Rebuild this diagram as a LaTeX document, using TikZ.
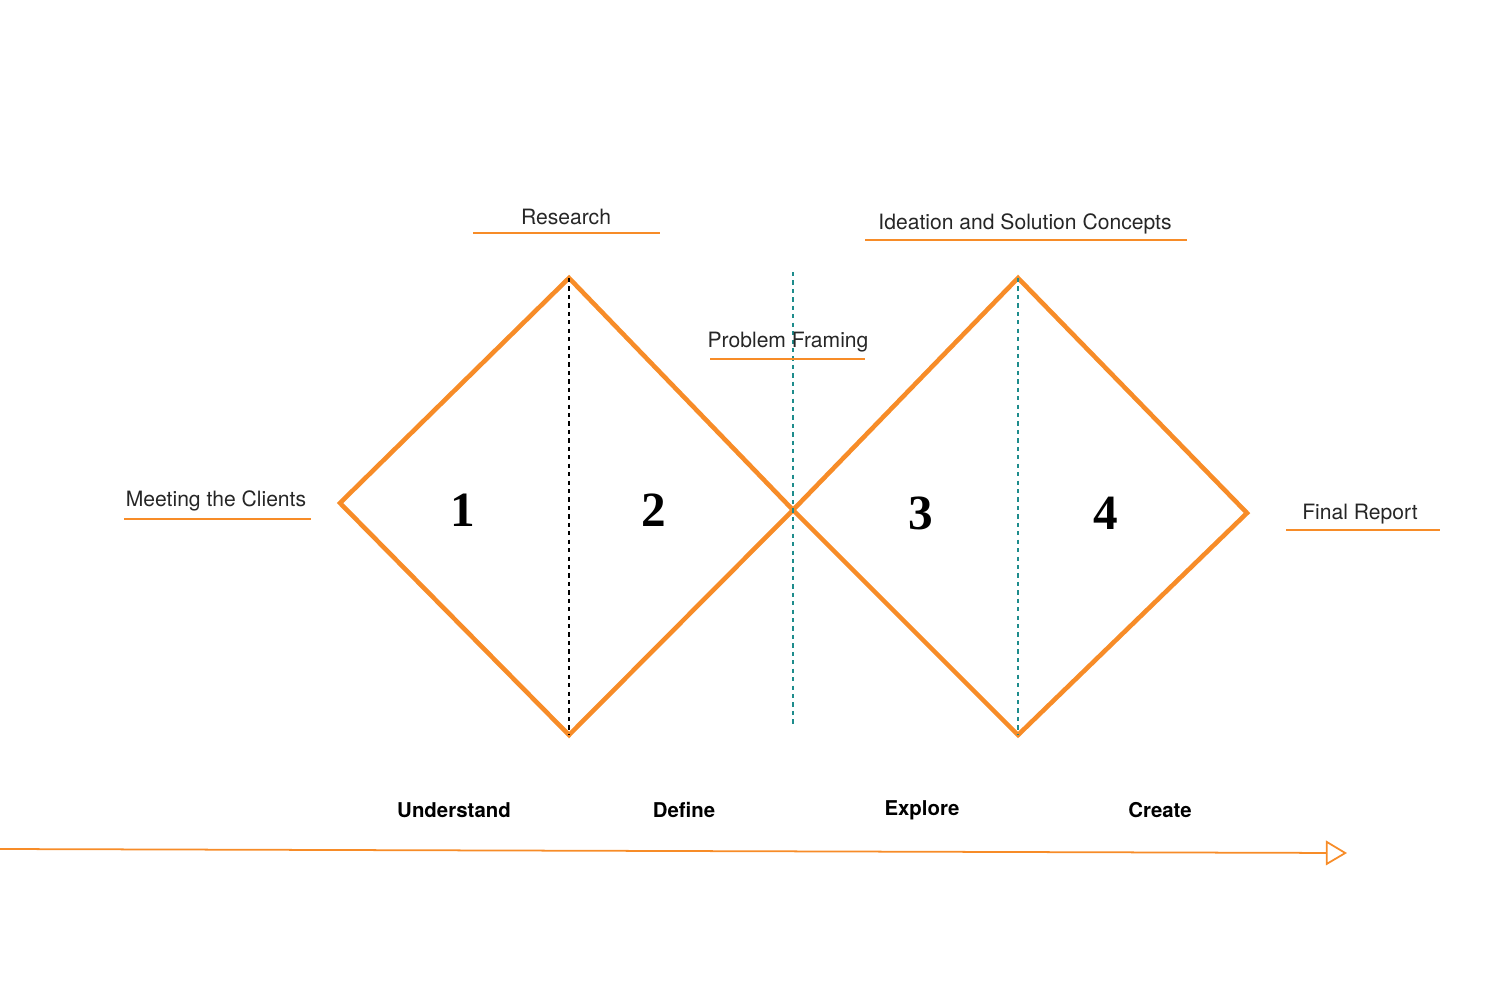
\documentclass[tikz,border=0pt]{standalone}
\usepackage{fontspec}
\setmainfont{Liberation Serif}
\setsansfont{TeX Gyre Heros}
\usetikzlibrary{arrows.meta}
\definecolor{phaseorange}{RGB}{247,140,40}
\definecolor{lineteal}{RGB}{30,140,140}
\tikzset{
  phase/.style={draw=phaseorange, line width=1.3pt, line join=miter},
  step label/.style={font=\sffamily\fontsize{6}{7}\selectfont, text=black!85, inner sep=1pt},
  under/.style={draw=phaseorange, line width=0.4pt},
  stage/.style={font=\sffamily\bfseries\fontsize{5.8}{7}\selectfont},
  num/.style={font=\rmfamily\bfseries\fontsize{14}{16}\selectfont},
  divider/.style={line width=0.7pt, dash pattern=on 1.2pt off 1.2pt},
}
\begin{document}
\begin{tikzpicture}[x=0.01cm,y=-0.01cm]
\useasboundingbox (0,0) rectangle (1500,1003);

% the two diamonds
\coordinate (aL) at (340,503); \coordinate (aT) at (569,278);
\coordinate (aB) at (569,735); \coordinate (mid) at (793,510);
\coordinate (bT) at (1018,278); \coordinate (bB) at (1018,735);
\coordinate (bR) at (1247,513);
\draw[phase] (aL) -- (aT) -- (mid) -- (aB) -- cycle;
\draw[phase] (mid) -- (bT) -- (bR) -- (bB) -- cycle;

% dividers
\draw[divider, black] (aT) -- (aB);
\draw[divider, lineteal] (793,272) -- (793,725);
\draw[divider, lineteal] (bT) -- (bB);

% numbers
\node[num] (n1) at (463,510) {1};
\node[num] (n2) at (654,510) {2};
\node[num] (n3) at (921,513) {3};
\node[num] (n4) at (1106,513) {4};

% labels with underlines
\node[step label] (research) at (566,217) {Research};
\draw[under] (473,233) -- (660,233);
\node[step label] (ideation) at (1025,224) {Ideation and Solution Concepts};
\draw[under] (865,240) -- (1187,240);
\node[step label] (framing) at (788,342) {Problem Framing};
\draw[under] (710,359) -- (865,359);
\node[step label] (clients) at (216,501) {Meeting the Clients};
\draw[under] (124,519) -- (311,519);
\node[step label] (report) at (1360,514) {Final Report};
\draw[under] (1286,530) -- (1440,530);

% stages
\node[stage] (understand) at (454,810) {Understand};
\node[stage] (define) at (684,810) {Define};
\node[stage] (explore) at (922,810) {Explore};
\node[stage] (create) at (1160,810) {Create};

% timeline
\coordinate (tStart) at (0,849);
\coordinate (tEnd) at (1347,853);
\draw[phaseorange, line width=0.5pt, -{Triangle[open, length=6pt, width=7pt]}] (tStart) -- (tEnd);
\end{tikzpicture}
\end{document}
